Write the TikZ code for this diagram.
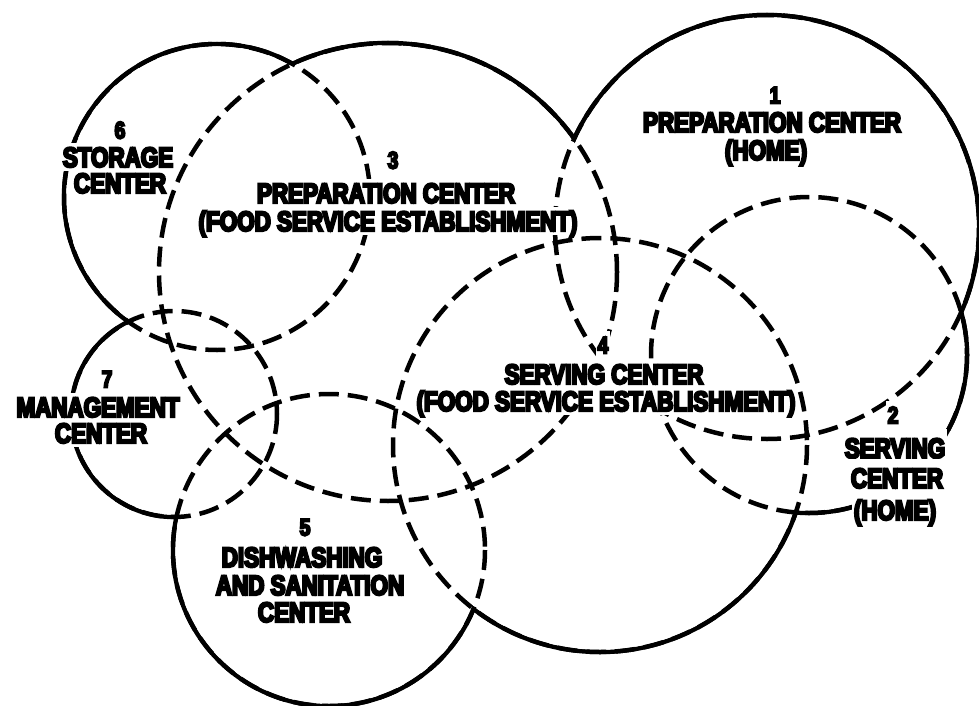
\documentclass[tikz,border=0pt]{standalone}
\usepackage{fontspec}
\newfontfamily\labfont{Liberation Sans Bold}[FakeStretch=0.8,FakeBold=8]
\begin{document}
\begin{tikzpicture}[x=1pt,y=-1pt,
  solidring/.style={line width=4.5pt},
  dashring/.style={line width=4.5pt, dash pattern=on 20pt off 9pt},
  lab/.style={fill=white, inner xsep=1.5pt, inner ysep=4pt, text height=20pt, text depth=0pt,
    font=\labfont\fontsize{28}{28}\selectfont},
  num/.style={lab, inner ysep=6pt, text height=17pt, font=\labfont\fontsize{24}{24}\selectfont},
  tall/.style={inner ysep=9pt}]
\useasboundingbox (0,0) rectangle (979,706);
\def\ringlist{767/227/212, 809/355/158, 388/272/229, 600/445/207, 329/550/156, 217/197/153, 174/414/103}
% outer outline (solid)
\foreach \cx/\cy/\r in \ringlist {\draw[solidring] (\cx,\cy) circle[radius=\r];}
% erase interiors
\foreach \cx/\cy/\r in \ringlist {\fill[white] (\cx,\cy) circle[radius=\r-2.25];}
% inner boundaries (dashed)
\foreach \cx/\cy/\r in \ringlist {\draw[dashring] (\cx,\cy) circle[radius=\r];}
% labels
\node[num] (n6) at (120,130) {6};
\node[lab] (s6a) at (118,157) {STORAGE};
\node[lab] (s6b) at (120,183) {CENTER};
\node[num] (n3) at (393,160) {3};
\node[lab] (s3a) at (386,193) {PREPARATION CENTER};
\node[lab] (s3b) at (388,221) {(FOOD SERVICE ESTABLISHMENT)};
\node[num] (n1) at (775,95) {1};
\node[lab] (s1a) at (772,122) {PREPARATION CENTER};
\node[lab] (s1b) at (766,150) {(HOME)};
\node[num] (n4) at (603,345) {4};
\node[lab] (s4a) at (604,374) {SERVING CENTER};
\node[lab] (s4b) at (606,401) {(FOOD SERVICE ESTABLISHMENT)};
\node[num] (n2) at (893,415) {2};
\node[lab,tall] (s2a) at (895,448) {SERVING};
\node[lab,tall] (s2b) at (897,478) {CENTER};
\node[lab,tall] (s2c) at (895,510) {(HOME)};
\node[num] (n7) at (107,379) {7};
\node[lab] (s7a) at (98,407) {MANAGEMENT};
\node[lab] (s7b) at (101,433) {CENTER};
\node[num] (n5) at (305,527) {5};
\node[lab] (s5a) at (302,557) {DISHWASHING};
\node[lab] (s5b) at (310,585) {AND SANITATION};
\node[lab] (s5c) at (304,612) {CENTER};
\end{tikzpicture}
\end{document}
